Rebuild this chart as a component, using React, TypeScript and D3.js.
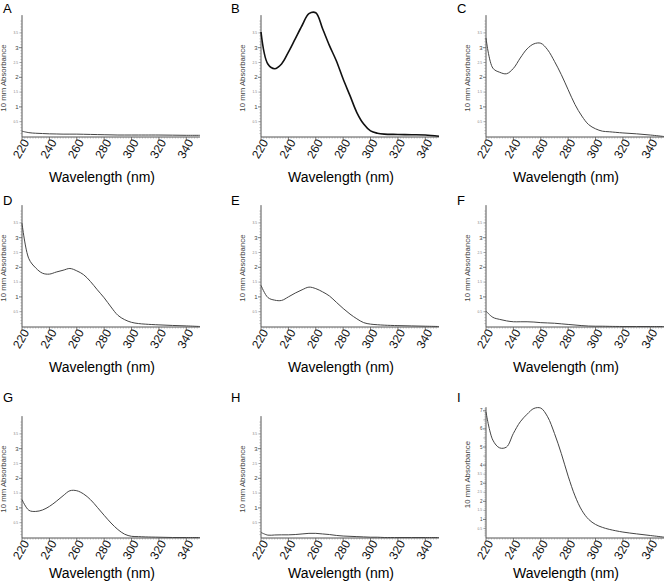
import React from "react";
import * as d3 from "d3";

const wavelengths = [220, 225, 230, 235, 240, 245, 250, 255, 260, 265, 270, 275, 280, 285, 290, 295, 300, 305, 310, 320, 330, 340, 350];

// Absorbance read at the wavelengths above (nm)
const seriesA = [0.18, 0.13, 0.11, 0.10, 0.09, 0.085, 0.08, 0.08, 0.08, 0.075, 0.07, 0.065, 0.06, 0.055, 0.05, 0.05, 0.05, 0.05, 0.05, 0.05, 0.045, 0.04, 0.04];
const seriesB = [3.53, 2.45, 2.29, 2.45, 2.85, 3.3, 3.75, 4.15, 4.18, 3.64, 3.07, 2.56, 1.94, 1.38, 0.81, 0.42, 0.19, 0.11, 0.08, 0.07, 0.06, 0.05, 0.01];
const seriesC = [3.33, 2.31, 2.17, 2.12, 2.3, 2.65, 2.96, 3.13, 3.15, 2.93, 2.54, 2.09, 1.58, 1.08, 0.69, 0.4, 0.26, 0.18, 0.16, 0.12, 0.09, 0.05, 0.0];
const seriesD = [3.49, 2.29, 1.98, 1.8, 1.77, 1.84, 1.9, 1.96, 1.88, 1.75, 1.52, 1.24, 0.97, 0.66, 0.38, 0.23, 0.14, 0.1, 0.08, 0.055, 0.035, 0.02, 0.0];
const seriesE = [1.39, 0.98, 0.89, 0.88, 1.0, 1.13, 1.24, 1.33, 1.28, 1.17, 1.03, 0.82, 0.61, 0.42, 0.26, 0.13, 0.08, 0.06, 0.045, 0.03, 0.02, 0.01, 0.0];
const seriesF = [0.52, 0.31, 0.24, 0.19, 0.16, 0.16, 0.16, 0.15, 0.13, 0.12, 0.11, 0.09, 0.07, 0.05, 0.03, 0.015, 0.01, 0.01, 0.005, 0.0, 0.0, 0.0, 0.0];
const seriesG = [1.28, 0.92, 0.88, 0.93, 1.05, 1.22, 1.41, 1.58, 1.58, 1.47, 1.28, 1.02, 0.75, 0.49, 0.27, 0.11, 0.04, 0.03, 0.02, 0.01, 0.0, 0.0, 0.0];
const seriesH = [0.17, 0.08, 0.085, 0.09, 0.09, 0.1, 0.12, 0.14, 0.14, 0.12, 0.1, 0.07, 0.05, 0.04, 0.03, 0.02, 0.01, 0.01, 0.0, 0.0, 0.0, 0.0, 0.0];
const seriesI = [6.94, 5.38, 4.95, 5.0, 5.75, 6.39, 6.81, 7.13, 7.15, 6.67, 5.75, 4.64, 3.39, 2.3, 1.5, 1.0, 0.72, 0.56, 0.45, 0.3, 0.2, 0.11, 0.02];

const panelLabels = ["A", "B", "C", "D", "E", "F", "G", "H", "I"];
const panelSeries = [seriesA, seriesB, seriesC, seriesD, seriesE, seriesF, seriesG, seriesH, seriesI];
const panelYMax = [4.1, 4.1, 4.1, 4.1, 4.1, 4.1, 4.1, 4.1, 7.2];
const panelMajorTicks = [
  [1, 2, 3], [1, 2, 3], [1, 2, 3],
  [1, 2, 3], [1, 2, 3], [1, 2, 3],
  [1, 2, 3], [1, 2, 3], [1, 2, 3, 4, 5, 6, 7],
];
const halfTicks = [0.5, 1.5, 2.5, 3.5];
const xTicks = [220, 240, 260, 280, 300, 320, 340];
const xDomain = [220, 350];
const xTitle = "Wavelength (nm)";
const yTitle = "10 mm Absorbance";

const colAxisX = [22, 261, 486];
const colLabelX = [3, 231, 457];
const rowBottom = [137, 327, 538];
const rowLabelBaseline = [13, 205, 402];
const rowTitleOffset = [45, 45, 40];
const plotW = 178;

const FONT = "'Liberation Sans', Arial, sans-serif";

function Panel({ idx }: { idx: number }) {
  const col = idx % 3;
  const row = Math.floor(idx / 3);
  const left = colAxisX[col];
  const bottom = rowBottom[row];
  const ymax = panelYMax[idx];
  const unitPx = idx === 8 ? 18.1 : 29.6;
  const zeroY = bottom - 0.5;
  const top = zeroY - ymax * unitPx;

  const x = d3.scaleLinear().domain(xDomain).range([left, left + plotW]);
  const y = d3.scaleLinear().domain([0, ymax]).range([zeroY, top]);

  const data = wavelengths.map((w, i) => [w, panelSeries[idx][i]] as [number, number]);
  const line = d3
    .line<[number, number]>()
    .x((d) => x(d[0]))
    .y((d) => y(d[1]))
    .curve(d3.curveCatmullRom.alpha(0.5));

  const minorX = d3.range(222, 350, 2).filter((v) => v % 20 !== 0);
  const minorY = d3.range(0.1, ymax, 0.1).filter((v) => Math.abs(v * 2 - Math.round(v * 2)) > 0.01);
  const halfY = d3.range(0.5, ymax, 1);

  const isB = idx === 1;
  const cy = (top + bottom) / 2 + 2;
  const ylx = left - 16;

  return (
    <g>
      <text x={colLabelX[col]} y={rowLabelBaseline[row]} fontFamily={FONT} fontSize={13} fill="#000">
        {panelLabels[idx]}
      </text>
      {/* y axis */}
      <line x1={left} x2={left} y1={top} y2={bottom} stroke="#555" strokeWidth={1} />
      {minorY.map((v) => (
        <line key={"my" + v} x1={left - 1.5} x2={left} y1={y(v)} y2={y(v)} stroke="#888" strokeWidth={0.6} />
      ))}
      {halfY.map((v) => (
        <g key={"hy" + v}>
          <line x1={left - 2.5} x2={left} y1={y(v)} y2={y(v)} stroke="#777" strokeWidth={0.7} />
          {halfTicks.includes(v) ? (
            <text x={left - 4} y={y(v)} dy="0.35em" textAnchor="end" fontFamily={FONT} fontSize={3.2} fill="#777">
              {v}
            </text>
          ) : null}
        </g>
      ))}
      {panelMajorTicks[idx].map((v) => (
        <g key={"My" + v}>
          <line x1={left - 3} x2={left} y1={y(v)} y2={y(v)} stroke="#555" strokeWidth={0.8} />
          <text x={left - 3.5} y={y(v)} dy="0.35em" textAnchor="end" fontFamily={FONT} fontSize={idx === 8 ? 4.5 : 6} fill="#444">
            {v}
          </text>
        </g>
      ))}
      <text
        transform={`translate(${ylx},${cy}) rotate(-90)`}
        textAnchor="middle"
        fontFamily={FONT}
        fontSize={7.8}
        fill="#444"
      >
        {yTitle}
      </text>
      {/* x axis */}
      <line x1={left} x2={left + plotW} y1={bottom} y2={bottom} stroke="#555" strokeWidth={1} />
      {minorX.map((v) => (
        <line key={"mx" + v} x1={x(v)} x2={x(v)} y1={bottom} y2={bottom + 1.5} stroke="#888" strokeWidth={0.6} />
      ))}
      {xTicks.map((v) => (
        <g key={"Mx" + v}>
          <line x1={x(v)} x2={x(v)} y1={bottom} y2={bottom + 3} stroke="#555" strokeWidth={0.8} />
          <text
            transform={`translate(${x(v) + 4},${bottom + 3}) rotate(-60)`}
            textAnchor="end"
            dy="0.35em"
            fontFamily={FONT}
            fontSize={12}
            fill="#111"
          >
            {v}
          </text>
        </g>
      ))}
      <text x={left + 80} y={bottom + rowTitleOffset[row]} textAnchor="middle" fontFamily={FONT} fontSize={14} fill="#000">
        {xTitle}
      </text>
      <path d={line(data) || ""} fill="none" stroke={isB ? "#111" : "#444"} strokeWidth={isB ? 1.6 : 1} />
    </g>
  );
}

export default function App() {
  return (
    <svg
      width={667}
      height={586}
      viewBox="0 0 667 586"
      style={{ position: "absolute", left: 0, top: 0, background: "#fff" }}
    >
      <rect width={667} height={586} fill="#fff" />
      {panelLabels.map((_, i) => (
        <Panel key={i} idx={i} />
      ))}
    </svg>
  );
}
